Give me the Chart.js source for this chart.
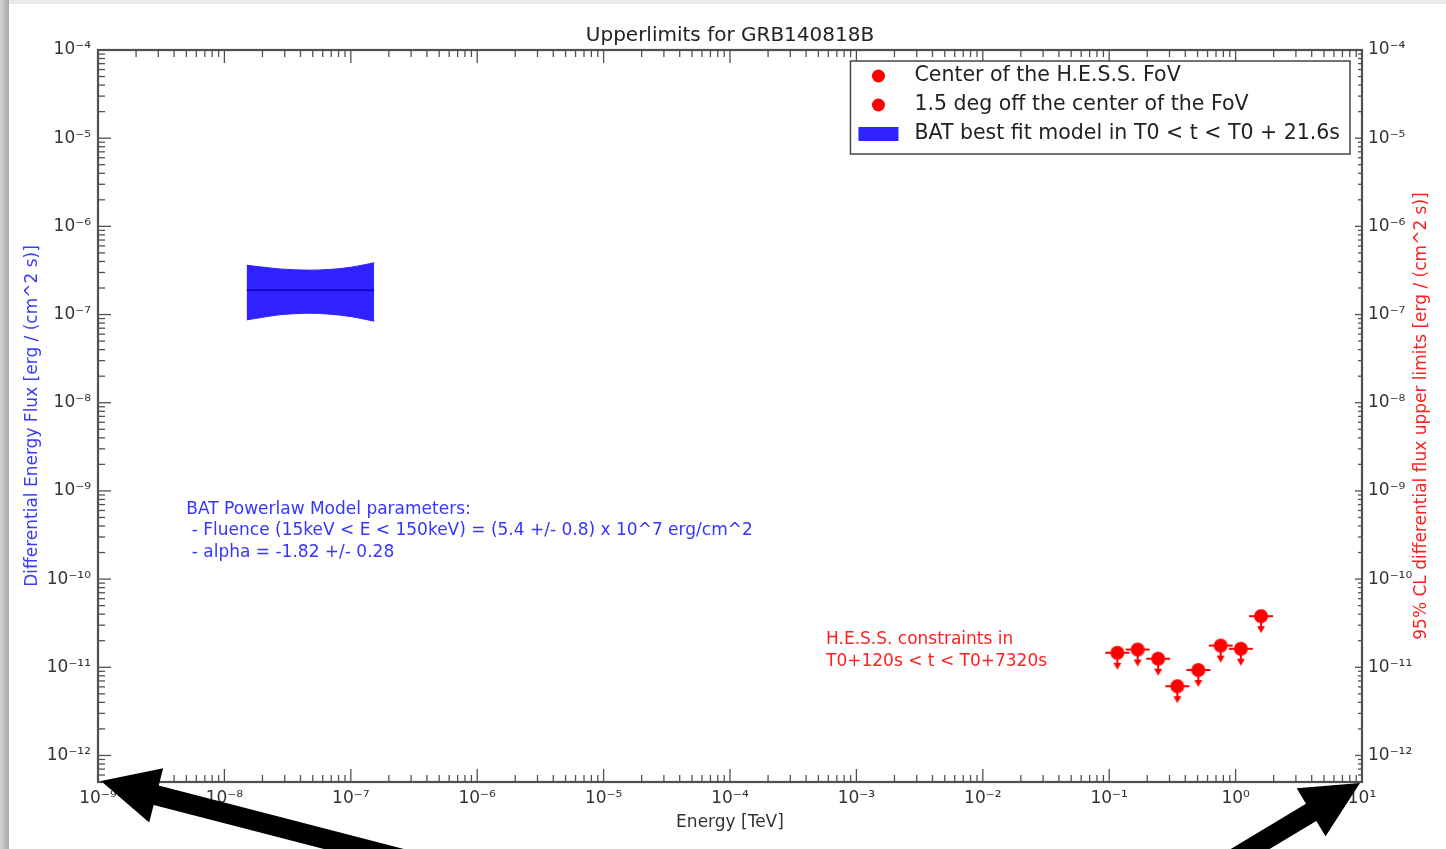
<!DOCTYPE html>
<html>
<head>
<meta charset="utf-8">
<script src="https://cdn.jsdelivr.net/npm/chart.js@4.4.1/dist/chart.umd.min.js"></script>
<style>
html, body { margin: 0; padding: 0; background: #fff; overflow: hidden; }
#frameTop { position: absolute; left: 0; top: 0; width: 1446px; height: 4px; background: #ebebeb; }
#frameLeft { position: absolute; left: 0; top: 0; width: 9px; height: 849px; background: linear-gradient(to right, #d2d2d2, #a8a8a8); }
#wrap { position: absolute; left: 0; top: 0; width: 1446px; height: 849px; }
</style>
</head>
<body>
<div id="frameTop"></div>
<div id="frameLeft"></div>
<div id="wrap"><canvas id="grbChart"></canvas></div>
<script>
// --- Data: ---
// BAT powerlaw band (energies in TeV, flux in erg / (cm^2 s))
const batEnergy = [1.5e-8, 2e-8, 2.75e-8, 4.5e-8, 6.85e-8, 1.02e-7, 1.53e-7];
const batUpper  = [3.63e-7, 3.45e-7, 3.29e-7, 3.19e-7, 3.25e-7, 3.45e-7, 3.87e-7];
const batLower  = [8.7e-8, 9.3e-8, 9.95e-8, 1.035e-7, 1.01e-7, 9.45e-8, 8.4e-8];
const batBest   = [1.89e-7, 1.89e-7, 1.89e-7, 1.89e-7, 1.89e-7, 1.89e-7, 1.89e-7];

// H.E.S.S. upper limits
const hessEnergy   = [0.116, 0.168, 0.244, 0.346, 0.507, 0.762, 1.10, 1.59];
const hessCenterUL = [1.46e-11, 1.59e-11, 1.25e-11, 6.1e-12, 9.3e-12, 1.76e-11, 1.62e-11, 3.8e-11];
// no separate points are visible for the off-center run
const hessOffEnergy = [];
const hessOffUL     = [];

// axis ranges and decade ticks
const xRange = [1e-9, 1e1];
const yRange = [5e-13, 1e-4];
const xDecades = [1e-9, 1e-8, 1e-7, 1e-6, 1e-5, 1e-4, 1e-3, 1e-2, 1e-1, 1e0, 1e1];
const yDecades = [1e-12, 1e-11, 1e-10, 1e-9, 1e-8, 1e-7, 1e-6, 1e-5, 1e-4];

// text blocks
const titleText = 'Upperlimits for GRB140818B';
const batNote = ['BAT Powerlaw Model parameters:',
                 ' - Fluence (15keV < E < 150keV) = (5.4 +/- 0.8) x 10^7 erg/cm^2',
                 ' - alpha = -1.82 +/- 0.28'];
const hessNote = ['H.E.S.S. constraints in', 'T0+120s < t < T0+7320s'];
// where the notes are anchored, in data units (x, y of first line)
const batNoteAt = [5e-9, 6.2e-10];
const hessNoteAt = [5.75e-4, 2.06e-11];

const FONT = "'DejaVu Sans', 'Liberation Sans', sans-serif";
const RED = '#ff0000';
const BAND = '#3022ff';

const supDigits = {'-': '⁻', '0': '⁰', '1': '¹', '2': '²', '3': '³', '4': '⁴', '5': '⁵', '6': '⁶', '7': '⁷', '8': '⁸', '9': '⁹'};
const powLabel = (v) => {
    const e = Math.round(Math.log10(v));
    return '10' + String(e).split('').map(c => supDigits[c]).join('');
};

// upper limit marker: dot, small x bar and a down arrow
const makeULMarker = () => {
    const c = document.createElement('canvas');
    c.width = 30; c.height = 46;
    const g = c.getContext('2d');
    const cx = 15, cy = 23;
    g.fillStyle = RED; g.strokeStyle = RED; g.lineWidth = 2;
    g.beginPath(); g.moveTo(cx - 12, cy); g.lineTo(cx + 12, cy); g.stroke();
    g.beginPath(); g.moveTo(cx, cy); g.lineTo(cx, cy + 12); g.stroke();
    g.beginPath(); g.moveTo(cx - 4, cy + 10); g.lineTo(cx + 4, cy + 10); g.lineTo(cx, cy + 17); g.closePath(); g.fill();
    g.beginPath(); g.arc(cx, cy, 7, 0, Math.PI * 2); g.fill();
    return c;
};
const ulMarker = makeULMarker();

const toPoints = (xs, ys) => xs.map((x, i) => ({ x: x, y: ys[i] }));

// matplotlib style inward ticks + frame
const frameTicksPlugin = {
    id: 'frameTicks',
    afterDatasetsDraw(chart) {
        const { ctx, chartArea: a, scales } = chart;
        const ticksOf = (min, max) => {
            const out = [];
            for (let e = Math.floor(Math.log10(min)); e <= Math.ceil(Math.log10(max)); e++) {
                for (let m = 1; m < 10; m++) {
                    const v = m * Math.pow(10, e);
                    if (v >= min * 0.999 && v <= max * 1.001) out.push({ v: v, major: m === 1 });
                }
            }
            return out;
        };
        const line = (x1, y1, x2, y2) => { ctx.beginPath(); ctx.moveTo(x1, y1); ctx.lineTo(x2, y2); ctx.stroke(); };
        ctx.save();
        ctx.strokeStyle = '#505050';
        ctx.lineWidth = 1.3;
        ticksOf(scales.x.min, scales.x.max).forEach(t => {
            const px = scales.x.getPixelForValue(t.v);
            const len = t.major ? 13 : 7;
            line(px, a.bottom, px, a.bottom - len);
            line(px, a.top, px, a.top + len);
        });
        ticksOf(scales.y.min, scales.y.max).forEach(t => {
            const py = scales.y.getPixelForValue(t.v);
            line(a.left, py, a.left + (t.major ? 13 : 7), py);
            line(a.right, py, a.right - (t.major ? 7 : 4), py);
        });
        ctx.lineWidth = 2.2;
        ctx.strokeRect(a.left, a.top, a.right - a.left, a.bottom - a.top);
        ctx.restore();
    }
};

// title, right axis title, notes, legend box and the two black arrows
const decorPlugin = {
    id: 'decor',
    afterDraw(chart) {
        const { ctx, chartArea: a, scales } = chart;
        ctx.save();
        ctx.textBaseline = 'middle';

        // title
        ctx.fillStyle = '#222';
        ctx.font = '20px ' + FONT;
        ctx.textAlign = 'center';
        ctx.fillText(titleText, (a.left + a.right) / 2, 36);

        // right axis title (reads bottom to top)
        ctx.save();
        ctx.translate(1422, (a.top + a.bottom) / 2);
        ctx.rotate(-Math.PI / 2);
        ctx.fillStyle = '#ff2020';
        ctx.font = '17px ' + FONT;
        ctx.fillText('95% CL differential flux upper limits [erg / (cm^2 s)]', 0, 0);
        ctx.restore();

        // notes
        ctx.textAlign = 'left';
        ctx.font = '17px ' + FONT;
        ctx.fillStyle = '#3535ff';
        let nx = scales.x.getPixelForValue(batNoteAt[0]);
        let ny = scales.y.getPixelForValue(batNoteAt[1]);
        batNote.forEach((s, i) => ctx.fillText(s, nx, ny + i * 21.5));
        ctx.fillStyle = '#ff2020';
        nx = scales.x.getPixelForValue(hessNoteAt[0]);
        ny = scales.y.getPixelForValue(hessNoteAt[1]);
        hessNote.forEach((s, i) => ctx.fillText(s, nx, ny + i * 22));

        // legend
        const items = chart.data.datasets.filter(d => d.legendKind);
        ctx.font = '20.5px ' + FONT;
        const textW = Math.max(...items.map(d => ctx.measureText(d.label).width));
        const boxRight = a.right - 12, boxTop = a.top + 11;
        const boxLeft = boxRight - textW - 74;
        const rowH = 29;
        ctx.fillStyle = '#fff';
        ctx.fillRect(boxLeft, boxTop, boxRight - boxLeft, rowH * items.length + 6);
        ctx.strokeStyle = '#444';
        ctx.lineWidth = 1.5;
        ctx.strokeRect(boxLeft, boxTop, boxRight - boxLeft, rowH * items.length + 6);
        items.forEach((d, i) => {
            const cy = boxTop + 15 + i * rowH;
            if (d.legendKind === 'dot') {
                ctx.fillStyle = RED;
                ctx.beginPath(); ctx.arc(boxLeft + 28, cy, 6.5, 0, Math.PI * 2); ctx.fill();
            } else {
                ctx.fillStyle = BAND;
                ctx.fillRect(boxLeft + 8, cy - 7, 40, 14);
            }
            ctx.fillStyle = '#222';
            ctx.fillText(d.label, boxLeft + 64, cy);
        });

        // arrows pointing at the axis corners
        const drawArrow = (tipX, tipY, angleDeg) => {
            const len = 320, shaftW = 20, headLen = 57, headHalfW = 28;
            ctx.save();
            ctx.translate(tipX, tipY);
            ctx.rotate(angleDeg * Math.PI / 180);
            ctx.fillStyle = '#000';
            ctx.beginPath();
            ctx.moveTo(0, 0);
            ctx.lineTo(headLen, -headHalfW);
            ctx.lineTo(headLen, -shaftW / 2);
            ctx.lineTo(len, -shaftW / 2);
            ctx.lineTo(len, shaftW / 2);
            ctx.lineTo(headLen, shaftW / 2);
            ctx.lineTo(headLen, headHalfW);
            ctx.closePath();
            ctx.fill();
            ctx.restore();
        };
        drawArrow(a.left + 3, a.bottom - 1, 14.5);
        drawArrow(a.right - 2, a.bottom + 1, 149);
        ctx.restore();
    }
};

const tickFont = { family: FONT, size: 17 };

const createUpperLimitChart = () => {
    const ctx = document.querySelector('#grbChart').getContext('2d');
    new Chart(ctx, {
        type: 'line',
        data: {
            datasets: [
                {
                    label: 'Center of the H.E.S.S. FoV',
                    legendKind: 'dot',
                    data: toPoints(hessEnergy, hessCenterUL),
                    yAxisID: 'y2',
                    showLine: false,
                    pointStyle: ulMarker,
                    pointRadius: 8,
                    borderColor: RED,
                    backgroundColor: RED,
                    order: -2
                },
                {
                    label: '1.5 deg off the center of the FoV',
                    legendKind: 'dot',
                    data: toPoints(hessOffEnergy, hessOffUL),
                    yAxisID: 'y2',
                    showLine: false,
                    pointStyle: ulMarker,
                    pointRadius: 8,
                    borderColor: RED,
                    backgroundColor: RED,
                    order: -2
                },
                {
                    label: 'BAT best fit model in T0 < t < T0 + 21.6s',
                    legendKind: 'rect',
                    data: toPoints(batEnergy, batUpper),
                    borderColor: BAND,
                    backgroundColor: BAND,
                    borderWidth: 1,
                    pointRadius: 0,
                    tension: 0.35,
                    fill: '+1'
                },
                {
                    label: 'BAT lower edge',
                    data: toPoints(batEnergy, batLower),
                    borderColor: BAND,
                    borderWidth: 1,
                    pointRadius: 0,
                    tension: 0.35,
                    fill: false
                },
                {
                    // drawn above the band
                    label: 'BAT best fit',
                    data: toPoints(batEnergy, batBest),
                    borderColor: '#1000b8',
                    borderWidth: 1.5,
                    pointRadius: 0,
                    fill: false,
                    order: -1
                }
            ]
        },
        options: {
            responsive: true,
            maintainAspectRatio: false,
            animation: false,
            layout: { padding: { top: 50, left: 0, right: 0, bottom: 0 } },
            plugins: {
                legend: { display: false },
                title: { display: false },
                tooltip: { enabled: false }
            },
            scales: {
                x: {
                    type: 'logarithmic',
                    min: xRange[0],
                    max: xRange[1],
                    grid: { display: false, drawTicks: false },
                    border: { display: false },
                    afterBuildTicks: (scale) => { scale.ticks = xDecades.map(v => ({ value: v })); },
                    afterFit: (scale) => { scale.height = 67; },
                    ticks: {
                        autoSkip: false,
                        maxRotation: 0,
                        padding: 6,
                        color: '#333',
                        font: tickFont,
                        callback: (v) => powLabel(v)
                    },
                    title: {
                        display: true,
                        text: 'Energy [TeV]',
                        color: '#333',
                        font: { family: FONT, size: 17 },
                        padding: { top: 0, bottom: 16 }
                    }
                },
                y: {
                    type: 'logarithmic',
                    position: 'left',
                    min: yRange[0],
                    max: yRange[1],
                    grid: { display: false, drawTicks: false },
                    border: { display: false },
                    afterBuildTicks: (scale) => { scale.ticks = yDecades.map(v => ({ value: v })); },
                    afterFit: (scale) => { scale.width = 98; },
                    ticks: {
                        autoSkip: false,
                        padding: 7,
                        color: '#333',
                        font: tickFont,
                        callback: (v) => powLabel(v)
                    },
                    title: {
                        display: true,
                        text: 'Differential Energy Flux [erg / (cm^2 s)]',
                        color: '#3a3aff',
                        font: { family: FONT, size: 17 },
                        padding: { top: 22, bottom: 0 }
                    }
                },
                y2: {
                    type: 'logarithmic',
                    position: 'right',
                    min: yRange[0],
                    max: yRange[1],
                    grid: { display: false, drawTicks: false },
                    border: { display: false },
                    afterBuildTicks: (scale) => { scale.ticks = yDecades.map(v => ({ value: v })); },
                    afterFit: (scale) => { scale.width = 84; },
                    ticks: {
                        autoSkip: false,
                        padding: 6,
                        color: '#333',
                        font: tickFont,
                        callback: (v) => powLabel(v)
                    }
                }
            }
        },
        plugins: [frameTicksPlugin, decorPlugin]
    });
};

createUpperLimitChart();
</script>
</body>
</html>
